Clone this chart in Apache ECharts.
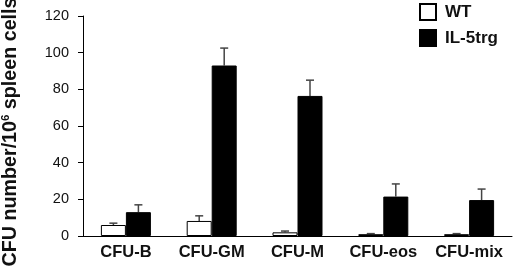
<!DOCTYPE html>
<html><head><meta charset="utf-8">
<script src="https://cdn.jsdelivr.net/npm/echarts@6/dist/echarts.min.js"></script>
<style>html,body{margin:0;padding:0;background:#fff}#c{width:520px;height:267px}</style>
</head><body><div id="c"></div>
<script>
const categories = ['CFU-B', 'CFU-GM', 'CFU-M', 'CFU-eos', 'CFU-mix'];
const wtValues = [6, 8.2, 2, 1, 1];
const wtUpper = [7, 11, 2.7, 1.3, 1.3];
const tgValues = [13, 93, 76.4, 21.5, 19.6];
const tgUpper = [17, 102.5, 85, 28.4, 25.6];
const yTicks = [0, 20, 40, 60, 80, 100, 120];

const BAR_W = 25;
function errSeries(name, vals, upper, side) {
  return {
    type: 'custom', name: name + ' err', silent: true, z: 1,
    data: vals.map((v, i) => [i, v, upper[i]]),
    renderItem: function (params, api) {
      const i = api.value(0);
      const base = api.coord([i, api.value(1)]);
      const top = api.coord([i, api.value(2)]);
      const x = base[0] + side * BAR_W / 2;
      const cap = 4;
      return {
        type: 'group',
        children: [
          { type: 'line', shape: { x1: x, y1: base[1], x2: x, y2: top[1] }, style: { stroke: '#444', lineWidth: 1.5 } },
          { type: 'line', shape: { x1: x - cap, y1: top[1], x2: x + cap, y2: top[1] }, style: { stroke: '#444', lineWidth: 1.5 } }
        ]
      };
    }
  };
}

const chart = echarts.init(document.getElementById('c'));
chart.setOption({
  animation: false,
  grid: { left: 83, right: 8, top: 16, bottom: 31, containLabel: false, outerBoundsMode: 'none' },
  legend: {
    orient: 'vertical', left: 419, top: 3, padding: 0, itemWidth: 16, itemHeight: 16, itemGap: 8,
    icon: 'rect',
    textStyle: { fontFamily: 'Liberation Sans', fontWeight: 'bold', fontSize: 17, lineHeight: 16, color: '#111', padding: [0, 0, 0, 4] },
    data: ['WT', 'IL-5trg']
  },
  xAxis: {
    type: 'category', data: categories,
    axisLine: { lineStyle: { color: '#000', width: 1 } },
    axisTick: { show: false },
    axisLabel: { interval: 0, hideOverlap: false, margin: 8, fontFamily: 'Liberation Sans', fontWeight: 'bold', fontSize: 16.5, color: '#111' }
  },
  yAxis: {
    type: 'value', min: 0, max: 120, interval: 20,
    name: '{a|CFU number/10}{s|6}{a| spleen cells}',
    nameLocation: 'middle', nameRotate: 90, nameGap: 62,
    nameTextStyle: {
      padding: [0, 12, 0, 0],
      rich: {
        a: { fontFamily: 'Liberation Sans', fontWeight: 'bold', fontSize: 19.7, color: '#111' },
        s: { fontFamily: 'Liberation Sans', fontWeight: 'bold', fontSize: 11.5, color: '#111', verticalAlign: 'top', padding: [0, 0, 9, 0] }
      }
    },
    axisLine: { show: true, lineStyle: { color: '#000', width: 1 } },
    axisTick: { show: true, inside: false, length: 5, lineStyle: { color: '#000' } },
    splitLine: { show: false },
    axisLabel: {
      margin: 14, fontFamily: 'Liberation Sans', fontSize: 14.5, color: '#111',
      formatter: v => yTicks.includes(v) ? String(v) : ''
    }
  },
  series: [
    { type: 'bar', name: 'WT', data: wtValues, barWidth: BAR_W, barGap: '0%', z: 2,
      itemStyle: { color: '#fff', borderColor: '#000', borderWidth: 1 } },
    { type: 'bar', name: 'IL-5trg', data: tgValues, barWidth: BAR_W, barGap: '0%', z: 2,
      itemStyle: { color: '#000', borderColor: '#000', borderWidth: 1 } },
    errSeries('WT', wtValues, wtUpper, -1),
    errSeries('IL-5trg', tgValues, tgUpper, 1)
  ]
});
</script></body></html>
